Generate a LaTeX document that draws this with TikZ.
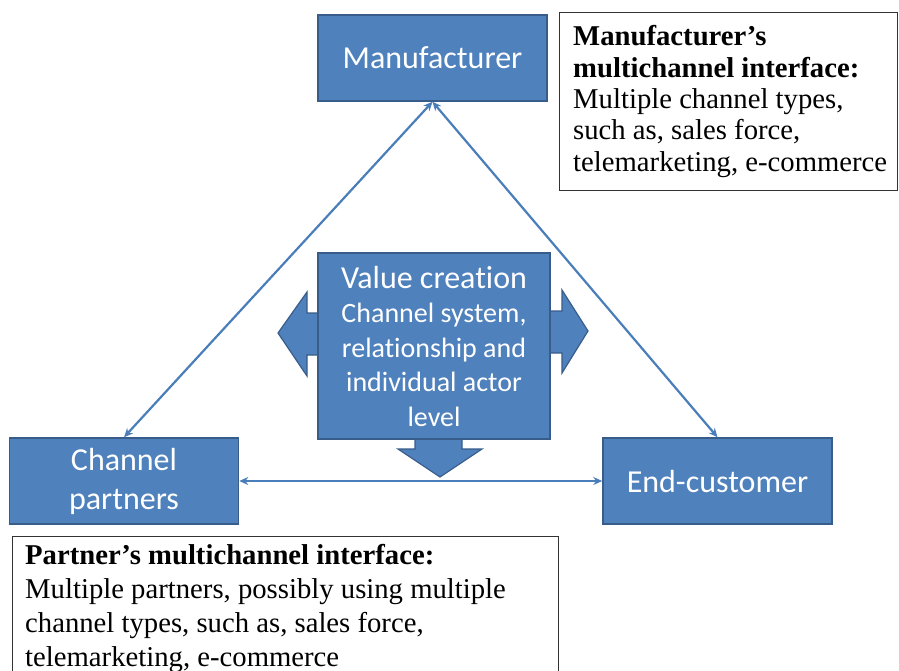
\documentclass[tikz,border=0pt]{standalone}
\usepackage{fontspec}
\setmainfont{Liberation Serif}
\newfontfamily\calfont[Ligatures={NoCommon,NoContextual}]{Carlito}
\usetikzlibrary{arrows.meta}
\definecolor{boxblue}{HTML}{4F81BD}
\definecolor{boxedge}{HTML}{385D8A}
\definecolor{linkblue}{HTML}{4A7EBB}
\begin{document}
\begin{tikzpicture}[x=1pt,y=-1pt,
  blk/.style={draw=boxedge, line width=1.5pt, fill=boxblue, text=white,
    font=\calfont\fontsize{32}{39}\selectfont, align=center, inner sep=0pt,
    minimum width=229pt, minimum height=86pt},
  bigarrow/.style={draw=boxedge, line width=1.2pt, fill=boxblue, line join=miter},
  link/.style={draw=linkblue, line width=2.2pt,
    {Stealth[length=9pt,width=8pt]}-{Stealth[length=9pt,width=8pt]}},
  note/.style={draw=black!80, line width=1pt, fill=white},
  notetext/.style={align=left, inner sep=0pt, text=black}]
\useasboundingbox[fill=white] (0,0) rectangle (899,670);

% block arrows behind the value box
\draw[bigarrow] (278,333) -- (307,292) -- (307,313) -- (322,313) -- (322,355) -- (307,355) -- (307,376) -- cycle;
\draw[bigarrow] (588,331) -- (562,290) -- (562,311) -- (546,311) -- (546,353) -- (562,353) -- (562,373) -- cycle;
\draw[bigarrow] (415,435) -- (462,435) -- (462,449) -- (482,449) -- (440,477) -- (398,449) -- (415,449) -- cycle;

% boxes
\node[blk] (man) at (432.5,58) {Manufacturer};
\node[blk] (cp) at (124,481) {Channel\\partners};
\node[blk] (ec) at (717.5,481) {End-customer};
\node[blk, minimum width=232pt, minimum height=186pt,
      font=\calfont\fontsize{28}{34.5}\selectfont] (vc) at (434,346)
  {{\fontsize{32}{35.5}\selectfont Value creation}\\Channel system,\\relationship and\\individual actor\\level};

% connectors
\draw[link] (man.south) -- (cp.north);
\draw[link] (man.south) -- (ec.north);
\draw[link] (cp.east) -- (ec.west);

% note boxes
\node[note, anchor=north west, minimum width=338pt, minimum height=178pt, inner sep=0pt] (mt) at (559,12) {};
\node[notetext, anchor=west, font=\fontsize{28.7}{31.3}\selectfont] (mtt) at ([xshift=14pt]mt.west)
  {\textbf{Manufacturer’s}\\\textbf{multichannel interface:}\\Multiple channel types,\\such as, sales force,\\telemarketing, e-commerce};

\node[note, anchor=north west, minimum width=546pt, minimum height=160pt, inner sep=0pt] (pt) at (12,536) {};
\node[notetext, anchor=north west, font=\fontsize{28.7}{34}\selectfont] (ptt) at ([xshift=13pt,yshift=-8pt]pt.north west)
  {\textbf{Partner’s multichannel interface:}\\Multiple partners, possibly using multiple\\channel types, such as, sales force,\\telemarketing, e-commerce};
\end{tikzpicture}
\end{document}
